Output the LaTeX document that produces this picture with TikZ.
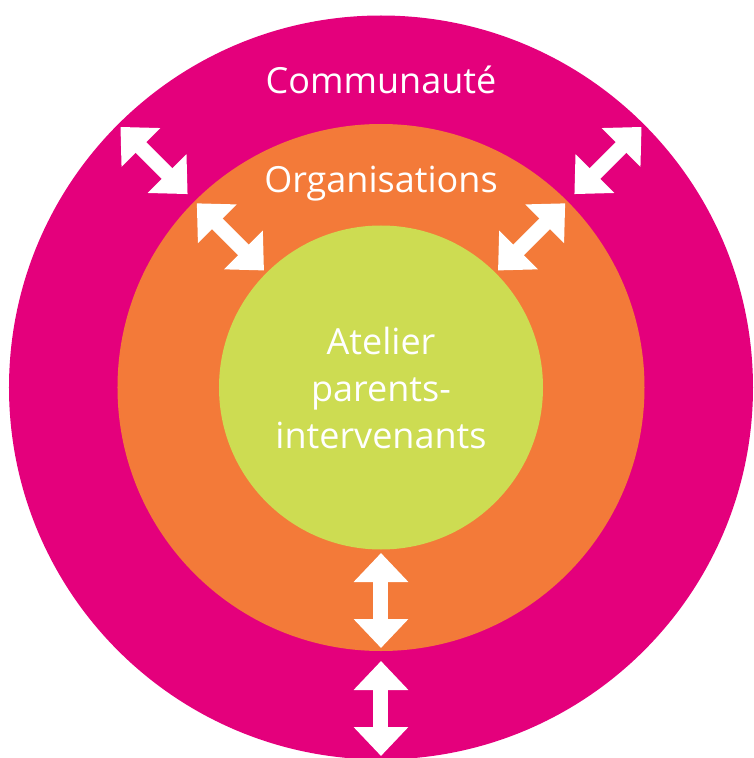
\documentclass[tikz,border=0pt]{standalone}
\usepackage{fontspec}
\setmainfont{Open Sans}
\usetikzlibrary{arrows.meta}
\definecolor{commu}{RGB}{228,0,124}
\definecolor{orga}{RGB}{243,122,57}
\definecolor{atel}{RGB}{205,220,82}

\begin{document}
\begin{tikzpicture}[x=1pt,y=1pt,
    lbl/.style={text=white,font=\fontsize{36}{47}\selectfont,align=center,inner sep=0pt},
    dbl/.style={white,line width=15pt,{Triangle[length=29pt,width=53pt]}-{Triangle[length=29pt,width=53pt]}}]
  \useasboundingbox (-381,-370.5) rectangle (373,387.5);
  \fill[commu] (0,0) circle (372);
  \fill[orga] (0,0) circle (263.5);
  \fill[atel] (0,0) circle (162);
  \node[lbl,anchor=base] (comm) at (0,293.5) {Communauté};
  \node[lbl,anchor=base] (orgs) at (0,194.5) {Organisations};
  \node[lbl] (atelier) at (0,0) {Atelier\\parents-\\intervenants};
  % arrows between the rings
  \foreach \a/\n in {45/ne,135/nw,270/s}{
    \coordinate (\n1) at (\a:165.5);
    \coordinate (\n2) at (\a:260.5);
    \coordinate (\n3) at (\a:273.5);
    \coordinate (\n4) at (\a:368.5);
    \draw[dbl] (\n1) -- (\n2);
    \draw[dbl] (\n3) -- (\n4);
  }
\end{tikzpicture}
\end{document}
